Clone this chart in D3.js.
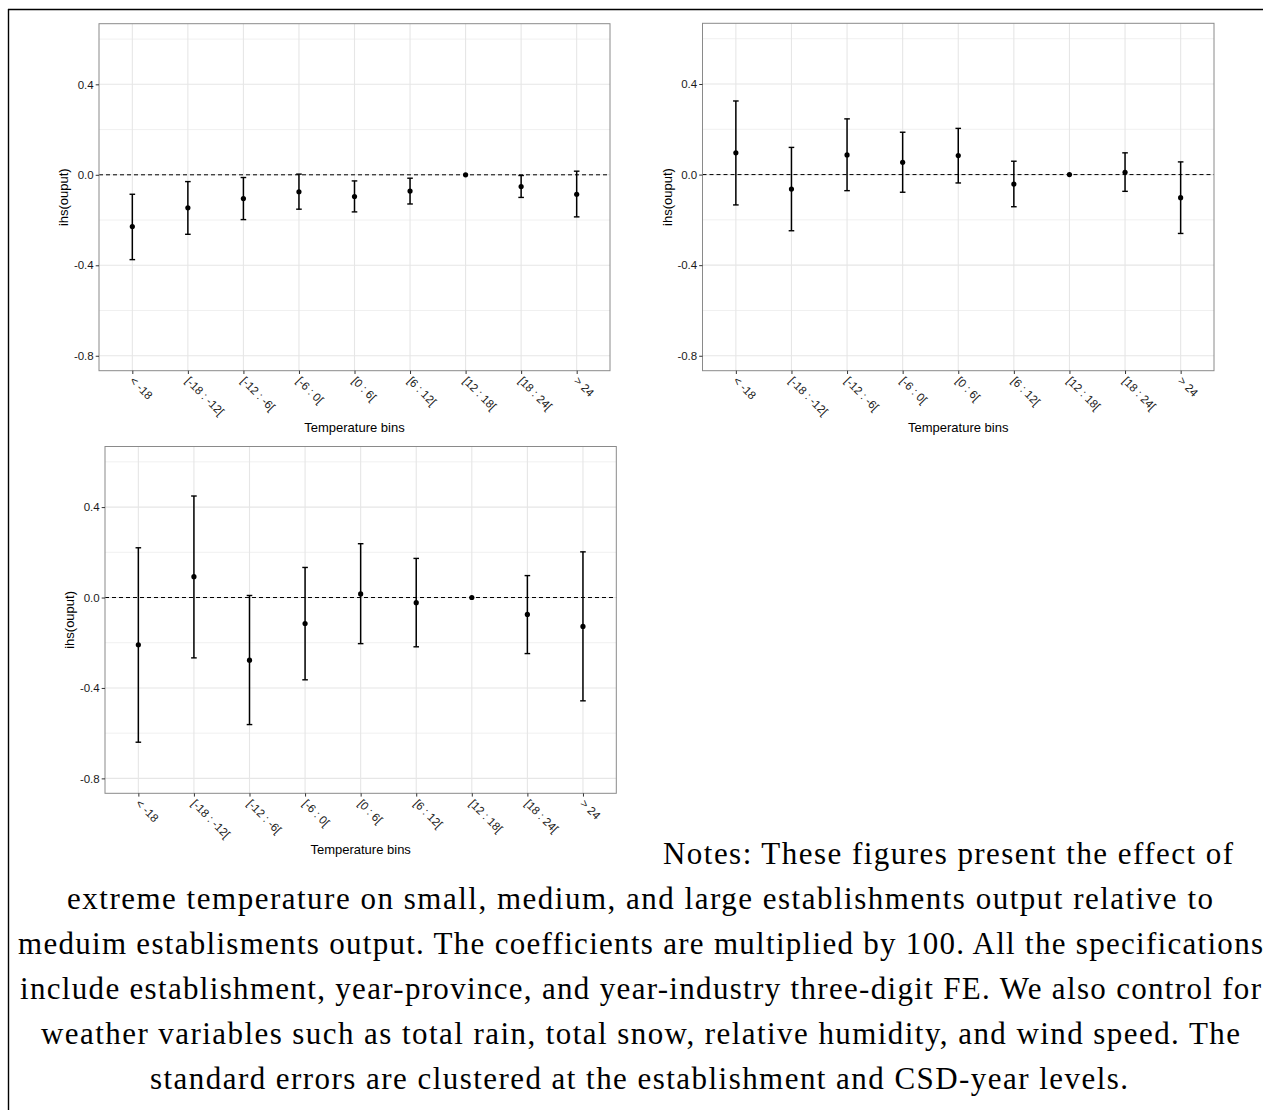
<!DOCTYPE html>
<html>
<head>
<meta charset="utf-8">
<script src="https://cdn.jsdelivr.net/npm/d3@7"></script>
<style>
  html, body { margin: 0; padding: 0; background: #fff; }
  svg { display: block; }
</style>
</head>
<body>
<svg id="chart" width="1263" height="1110"></svg>
<script>
// ---------------- DATA ----------------
const categories = ["< -18", "[-18 : -12[", "[-12 : -6[", "[-6 : 0[", "[0 : 6[", "[6 : 12[", "[12 : 18[", "[18 : 24[", "> 24"];

// Panel 1 (top left)
const est1 = [-0.229, -0.146, -0.105, -0.075, -0.096, -0.072, 0, -0.052, -0.086];
const lo1  = [-0.375, -0.263, -0.198, -0.152, -0.164, -0.129, 0, -0.100, -0.186];
const hi1  = [-0.086, -0.030, -0.012,  0.003, -0.027, -0.015, 0, -0.003,  0.016];

// Panel 2 (top right)
const est2 = [0.096, -0.064, 0.087, 0.054, 0.084, -0.042, 0, 0.010, -0.102];
const lo2  = [-0.134, -0.248, -0.071, -0.078, -0.037, -0.142, 0, -0.074, -0.260];
const hi2  = [0.325, 0.120, 0.246, 0.187, 0.204, 0.059, 0, 0.096, 0.056];

// Panel 3 (bottom left)
const est3 = [-0.209, 0.092, -0.277, -0.115, 0.016, -0.023, 0, -0.075, -0.128];
const lo3  = [-0.640, -0.267, -0.562, -0.364, -0.204, -0.218, 0, -0.248, -0.457];
const hi3  = [0.220, 0.449, 0.009, 0.133, 0.238, 0.173, 0, 0.097, 0.202];

const yMajorTicks = [-0.8, -0.4, 0.0, 0.4];
const yMinorTicks = [-0.6, -0.2, 0.2, 0.6];
const yDomain = [-0.866, 0.668];

const xTitle = "Temperature bins";
const yTitle = "ihs(ouput)";

const notesLines = [
  "Notes: These figures present the effect of",
  "extreme temperature on small, medium, and large establishments output relative to",
  "meduim establisments output. The coefficients are multiplied by 100. All the specifications",
  "include establishment, year-province, and year-industry three-digit FE. We also control for",
  "weather variables such as total rain, total snow, relative humidity, and wind speed. The",
  "standard errors are clustered at the establishment and CSD-year levels."
];

// ---------------- LAYOUT ----------------
const panels = [
  { est: est1, lo: lo1, hi: hi1, left: 99,  right: 610,  top: 23.7, bottom: 370.7 },
  { est: est2, lo: lo2, hi: hi2, left: 702.5, right: 1214, top: 23.3, bottom: 370.7 },
  { est: est3, lo: lo3, hi: hi3, left: 105, right: 616.3, top: 446.5, bottom: 793.3 }
];

const svg = d3.select("#chart");
const font = "'Liberation Sans', Arial, Helvetica, sans-serif";

// page frame (top and left rules)
svg.append("line").attr("x1", 8).attr("x2", 1263).attr("y1", 9.5).attr("y2", 9.5)
  .attr("stroke", "#000").attr("stroke-width", 1.4);
svg.append("line").attr("x1", 8.5).attr("x2", 8.5).attr("y1", 9).attr("y2", 1110)
  .attr("stroke", "#000").attr("stroke-width", 1.4);

panels.forEach(p => {
  const g = svg.append("g");
  const x = d3.scalePoint().domain(categories).range([p.left, p.right]).padding(0.6);
  const y = d3.scaleLinear().domain(yDomain).range([p.bottom, p.top]);
  const data = categories.map((c, i) => ({ c, est: p.est[i], lo: p.lo[i], hi: p.hi[i] }));

  g.append("rect").attr("x", p.left).attr("y", p.top)
    .attr("width", p.right - p.left).attr("height", p.bottom - p.top).attr("fill", "#fff");

  // minor grid
  g.selectAll(".ymin").data(yMinorTicks).join("line")
    .attr("x1", p.left).attr("x2", p.right)
    .attr("y1", d => y(d)).attr("y2", d => y(d))
    .attr("stroke", "#f0f0f0").attr("stroke-width", 1);
  // major grid
  g.selectAll(".ymaj").data(yMajorTicks).join("line")
    .attr("x1", p.left).attr("x2", p.right)
    .attr("y1", d => y(d)).attr("y2", d => y(d))
    .attr("stroke", "#e6e6e6").attr("stroke-width", 1.1);
  g.selectAll(".xmaj").data(categories).join("line")
    .attr("x1", d => x(d)).attr("x2", d => x(d))
    .attr("y1", p.top).attr("y2", p.bottom)
    .attr("stroke", "#e6e6e6").attr("stroke-width", 1.1);

  // dashed zero line
  g.append("line").attr("x1", p.left).attr("x2", p.right)
    .attr("y1", y(0)).attr("y2", y(0))
    .attr("stroke", "#000").attr("stroke-width", 1).attr("stroke-dasharray", "4,3");

  // error bars
  const capW = 2.8;
  const eb = g.selectAll(".eb").data(data.filter(d => d.hi !== d.lo)).join("g");
  eb.append("line").attr("x1", d => x(d.c)).attr("x2", d => x(d.c))
    .attr("y1", d => y(d.lo)).attr("y2", d => y(d.hi))
    .attr("stroke", "#000").attr("stroke-width", 1.5);
  eb.append("line").attr("x1", d => x(d.c) - capW).attr("x2", d => x(d.c) + capW)
    .attr("y1", d => y(d.lo)).attr("y2", d => y(d.lo))
    .attr("stroke", "#000").attr("stroke-width", 1.4);
  eb.append("line").attr("x1", d => x(d.c) - capW).attr("x2", d => x(d.c) + capW)
    .attr("y1", d => y(d.hi)).attr("y2", d => y(d.hi))
    .attr("stroke", "#000").attr("stroke-width", 1.4);

  // points
  g.selectAll(".pt").data(data).join("circle")
    .attr("cx", d => x(d.c)).attr("cy", d => y(d.est)).attr("r", 2.6).attr("fill", "#000");

  // panel border
  g.append("rect").attr("x", p.left).attr("y", p.top)
    .attr("width", p.right - p.left).attr("height", p.bottom - p.top)
    .attr("fill", "none").attr("stroke", "#8a8a8a").attr("stroke-width", 1);

  // y axis
  const ya = g.append("g").attr("transform", `translate(${p.left},0)`)
    .call(d3.axisLeft(y).tickValues(yMajorTicks).tickSize(3.3).tickPadding(2)
      .tickFormat(d => d.toFixed(1)));
  ya.select(".domain").remove();
  ya.selectAll(".tick line").attr("stroke", "#333");
  ya.selectAll("text").attr("font-family", font).attr("font-size", 11.5).attr("fill", "#1a1a1a");

  // x axis
  const xa = g.append("g").attr("transform", `translate(0,${p.bottom})`)
    .call(d3.axisBottom(x).tickSize(3.3).tickPadding(0));
  xa.select(".domain").remove();
  xa.selectAll(".tick line").attr("stroke", "#333");
  xa.selectAll("text")
    .attr("font-family", font).attr("font-size", 11.5).attr("fill", "#1a1a1a")
    .attr("text-anchor", "start")
    .attr("y", 0).attr("dy", "0.35em")
    .attr("transform", "translate(-1,8) rotate(45)");

  // titles
  g.append("text").attr("x", (p.left + p.right) / 2).attr("y", p.bottom + 61)
    .attr("text-anchor", "middle").attr("font-family", font).attr("font-size", 13)
    .attr("fill", "#000").text(xTitle);
  g.append("text")
    .attr("transform", `translate(${p.left - 31},${(p.top + p.bottom) / 2}) rotate(-90)`)
    .attr("text-anchor", "middle").attr("font-family", font).attr("font-size", 13)
    .attr("fill", "#000").text(yTitle);
});

// ---------------- NOTES ----------------
const noteExtents = [
  [663, 1233], [67, 1213], [18, 1263], [20, 1261], [41, 1240], [150, 1128]
];
const serif = "'Liberation Serif', 'Times New Roman', serif";
svg.append("g").selectAll("text").data(notesLines).join("text")
  .attr("x", (d, i) => noteExtents[i][0])
  .attr("y", (d, i) => 864 + i * 45)
  .attr("font-family", serif).attr("font-size", 31).attr("fill", "#000")
  .attr("textLength", (d, i) => noteExtents[i][1] - noteExtents[i][0])
  .attr("lengthAdjust", "spacing")
  .text(d => d);
</script>
</body>
</html>
